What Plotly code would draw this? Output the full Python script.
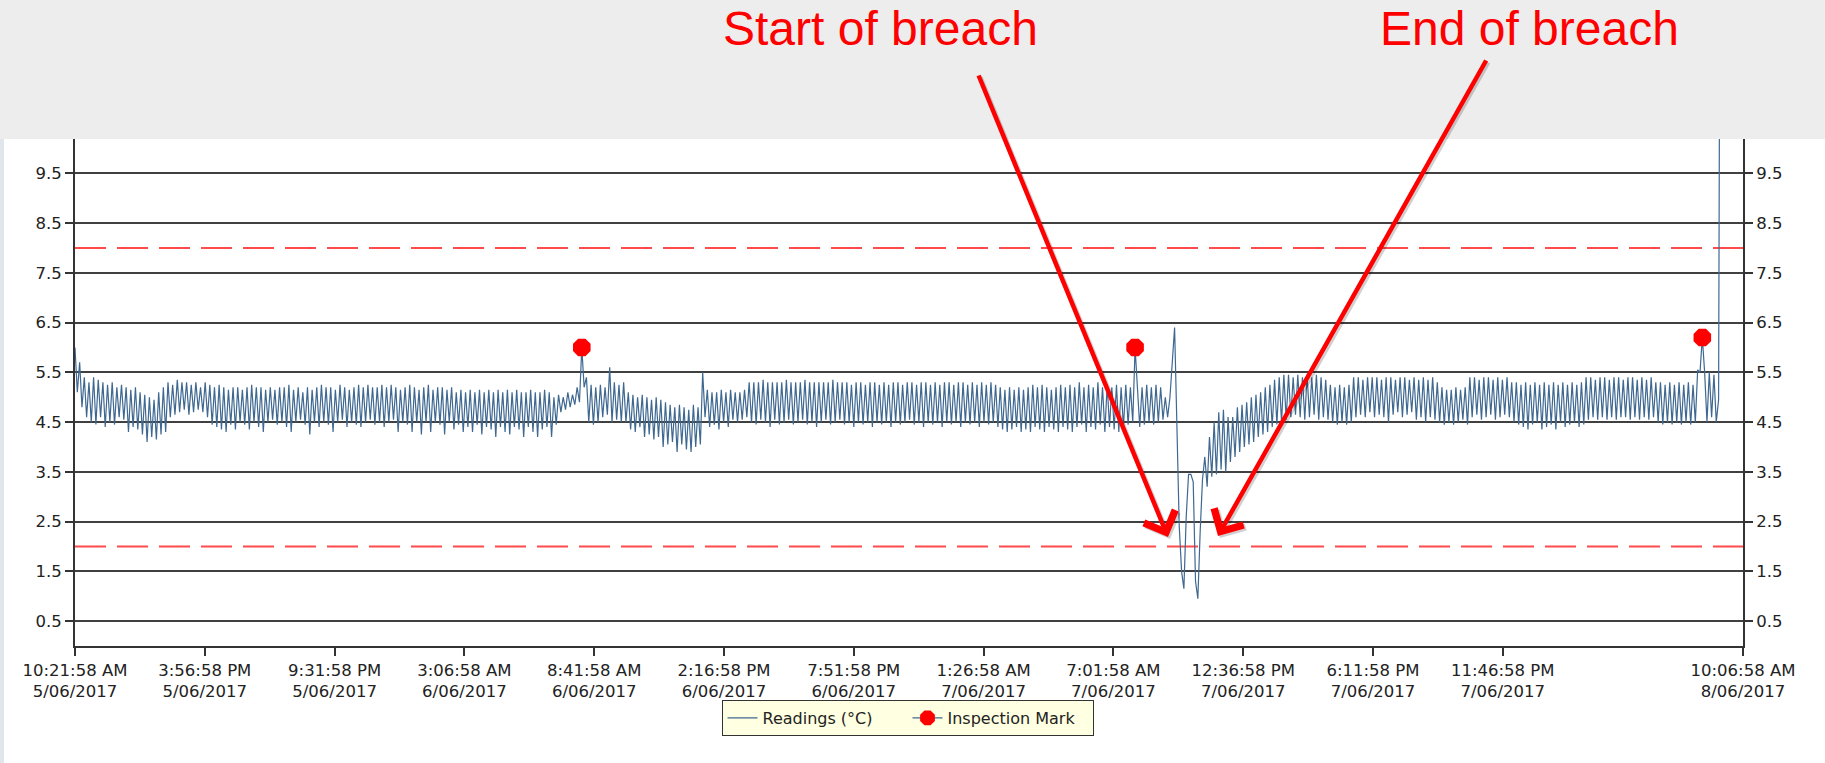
import pandas as pd
import plotly.graph_objects as go

# ---------------- data ----------------
START = "2017-06-05 10:21:58"
END = "2017-06-08 10:06:58"
SAMPLE_MINUTES = 6

readings = [
    6.0, 5.1, 5.7, 4.8, 5.4, 4.6, 5.3, 4.5, 5.4, 4.45,
    5.35, 4.6, 5.3, 4.4, 5.25, 4.5, 5.3, 4.45, 5.2, 4.6,
    5.25, 4.55, 5.2, 4.3, 5.15, 4.4, 5.2, 4.35, 5.1, 4.25,
    5.05, 4.1, 5.0, 4.2, 4.95, 4.15, 5.1, 4.25, 5.2, 4.3,
    5.3, 4.6, 5.25, 4.65, 5.35, 4.7, 5.3, 4.75, 5.3, 4.65,
    5.25, 4.7, 5.3, 4.75, 5.2, 4.7, 5.3, 4.6, 5.25, 4.45,
    5.2, 4.4, 5.25, 4.35, 5.2, 4.3, 5.15, 4.45, 5.2, 4.35,
    5.2, 4.5, 5.15, 4.45, 5.2, 4.35, 5.25, 4.5, 5.2, 4.4,
    5.2, 4.3, 5.15, 4.5, 5.2, 4.55, 5.15, 4.45, 5.2, 4.5,
    5.2, 4.4, 5.25, 4.3, 5.15, 4.5, 5.2, 4.55, 5.1, 4.45,
    5.2, 4.25, 5.15, 4.5, 5.2, 4.4, 5.25, 4.5, 5.2, 4.45,
    5.2, 4.3, 5.15, 4.5, 5.25, 4.55, 5.2, 4.4, 5.15, 4.5,
    5.2, 4.45, 5.25, 4.4, 5.2, 4.5, 5.25, 4.55, 5.2, 4.45,
    5.2, 4.5, 5.25, 4.4, 5.2, 4.5, 5.25, 4.55, 5.2, 4.3,
    5.15, 4.5, 5.2, 4.45, 5.25, 4.3, 5.2, 4.5, 5.15, 4.25,
    5.2, 4.5, 5.25, 4.3, 5.15, 4.5, 5.2, 4.45, 5.2, 4.25,
    5.15, 4.5, 5.2, 4.35, 5.1, 4.45, 5.15, 4.3, 5.1, 4.4,
    5.15, 4.3, 5.1, 4.45, 5.15, 4.25, 5.1, 4.4, 5.15, 4.35,
    5.1, 4.2, 5.15, 4.4, 5.1, 4.3, 5.15, 4.25, 5.1, 4.4,
    5.15, 4.35, 5.1, 4.2, 5.1, 4.4, 5.15, 4.3, 5.1, 4.2,
    5.1, 4.35, 5.15, 4.4, 5.1, 4.2, 5.0, 4.45, 5.05, 4.7,
    5.0, 4.75, 5.1, 4.8, 5.05, 4.85, 5.2, 4.9, 6.0, 5.2,
    5.4, 4.5, 5.25, 4.45, 5.2, 4.5, 5.25, 4.6, 5.2, 4.65,
    5.6, 4.5, 5.3, 4.55, 5.25, 4.5, 5.3, 4.5, 5.1, 4.35,
    5.05, 4.3, 5.0, 4.4, 5.05, 4.2, 5.0, 4.25, 4.95, 4.15,
    5.0, 4.2, 4.95, 4.0, 4.9, 4.05, 4.85, 4.1, 4.8, 3.9,
    4.85, 4.05, 4.8, 3.95, 4.75, 3.9, 4.85, 4.0, 4.8, 4.05,
    5.5, 4.6, 5.15, 4.4, 5.1, 4.45, 5.1, 4.35, 5.15, 4.5,
    5.1, 4.4, 5.15, 4.55, 5.1, 4.5, 5.1, 4.55, 5.15, 4.6,
    5.3, 4.5, 5.3, 4.45, 5.3, 4.55, 5.35, 4.5, 5.3, 4.4,
    5.3, 4.55, 5.3, 4.45, 5.3, 4.5, 5.35, 4.55, 5.3, 4.45,
    5.3, 4.5, 5.3, 4.55, 5.35, 4.45, 5.3, 4.5, 5.3, 4.4,
    5.3, 4.5, 5.3, 4.55, 5.3, 4.45, 5.35, 4.5, 5.3, 4.55,
    5.3, 4.45, 5.3, 4.5, 5.25, 4.4, 5.3, 4.5, 5.3, 4.45,
    5.25, 4.5, 5.3, 4.4, 5.3, 4.5, 5.25, 4.45, 5.3, 4.5,
    5.25, 4.4, 5.3, 4.5, 5.3, 4.45, 5.25, 4.5, 5.3, 4.55,
    5.3, 4.45, 5.25, 4.5, 5.3, 4.4, 5.3, 4.5, 5.25, 4.45,
    5.3, 4.5, 5.25, 4.4, 5.3, 4.5, 5.3, 4.45, 5.25, 4.5,
    5.3, 4.4, 5.3, 4.5, 5.25, 4.45, 5.3, 4.5, 5.25, 4.4,
    5.3, 4.5, 5.25, 4.45, 5.3, 4.5, 5.25, 4.4, 5.2, 4.35,
    5.15, 4.3, 5.2, 4.35, 5.15, 4.4, 5.2, 4.3, 5.15, 4.35,
    5.2, 4.3, 5.25, 4.4, 5.2, 4.35, 5.25, 4.3, 5.2, 4.4,
    5.15, 4.35, 5.2, 4.3, 5.25, 4.4, 5.2, 4.35, 5.25, 4.3,
    5.2, 4.4, 5.3, 4.45, 5.2, 4.3, 5.25, 4.4, 5.2, 4.35,
    5.3, 4.45, 5.2, 4.3, 5.25, 4.4, 5.2, 4.35, 5.25, 4.3,
    5.2, 4.4, 5.25, 4.45, 5.2, 4.5, 6.0, 5.3, 4.4, 5.2,
    4.45, 5.25, 4.5, 5.2, 4.45, 5.25, 4.5, 5.2, 4.55, 5.0,
    4.6, 5.0, 5.7, 6.4, 4.4, 2.4, 1.5, 1.15, 2.6, 3.45,
    3.45, 3.3, 1.3, 0.95, 2.3, 3.35, 3.8, 3.2, 4.2, 3.4,
    4.5, 3.45, 4.7, 3.55, 4.75, 3.5, 4.6, 3.7, 4.6, 3.8,
    4.8, 3.9, 4.85, 4.0, 4.9, 4.05, 5.0, 4.1, 5.05, 4.2,
    5.1, 4.25, 5.2, 4.3, 5.25, 4.4, 5.35, 4.45, 5.4, 4.5,
    5.45, 4.55, 5.45, 4.6, 5.4, 4.65, 5.45, 4.6, 5.4, 4.55,
    5.45, 4.6, 5.4, 4.65, 5.45, 4.55, 5.4, 4.6, 5.35, 4.55,
    5.25, 4.5, 5.2, 4.45, 5.25, 4.5, 5.2, 4.45, 5.25, 4.5,
    5.4, 4.6, 5.4, 4.65, 5.35, 4.6, 5.4, 4.7, 5.4, 4.6,
    5.4, 4.65, 5.35, 4.6, 5.4, 4.5, 5.4, 4.65, 5.35, 4.7,
    5.4, 4.6, 5.4, 4.65, 5.35, 4.7, 5.4, 4.55, 5.35, 4.6,
    5.4, 4.5, 5.35, 4.6, 5.4, 4.55, 5.3, 4.5, 5.2, 4.45,
    5.15, 4.5, 5.15, 4.45, 5.2, 4.5, 5.15, 4.55, 5.2, 4.45,
    5.4, 4.6, 5.4, 4.65, 5.35, 4.55, 5.4, 4.6, 5.4, 4.65,
    5.35, 4.55, 5.4, 4.6, 5.35, 4.65, 5.4, 4.6, 5.3, 4.5,
    5.3, 4.45, 5.25, 4.4, 5.3, 4.35, 5.25, 4.45, 5.3, 4.5,
    5.25, 4.35, 5.3, 4.4, 5.25, 4.45, 5.3, 4.35, 5.25, 4.5,
    5.3, 4.4, 5.25, 4.45, 5.3, 4.5, 5.25, 4.4, 5.3, 4.45,
    5.4, 4.55, 5.4, 4.6, 5.35, 4.55, 5.4, 4.6, 5.4, 4.55,
    5.35, 4.6, 5.4, 4.55, 5.4, 4.6, 5.35, 4.6, 5.4, 4.55,
    5.4, 4.6, 5.35, 4.55, 5.4, 4.6, 5.35, 4.55, 5.4, 4.6,
    5.3, 4.5, 5.3, 4.45, 5.25, 4.5, 5.3, 4.45, 5.25, 4.5,
    5.3, 4.45, 5.25, 4.5, 5.3, 4.45, 5.25, 4.5, 5.55, 5.5,
    6.2, 5.5, 4.5, 5.5, 4.6, 5.45, 4.5, 4.95, 21.0, 21.0,
    21.0, 21.0, 21.0, 21.0, 21.0, 21.0, 21.0, 21.0,
]

inspection_times = ["2017-06-06 08:09:58", "2017-06-07 07:57:58", "2017-06-08 08:21:58"]
inspection_values = [6.0, 6.0, 6.2]

lower_limit = 2.0
upper_limit = 8.0

y_tick_values = [0.5, 1.5, 2.5, 3.5, 4.5, 5.5, 6.5, 7.5, 8.5, 9.5]

tick_times = [
    "2017-06-05 10:21:58", "2017-06-05 15:56:58", "2017-06-05 21:31:58",
    "2017-06-06 03:06:58", "2017-06-06 08:41:58", "2017-06-06 14:16:58",
    "2017-06-06 19:51:58", "2017-06-07 01:26:58", "2017-06-07 07:01:58",
    "2017-06-07 12:36:58", "2017-06-07 18:11:58", "2017-06-07 23:46:58",
    "2017-06-08 10:06:58",
]
tick_labels = [
    "10:21:58 AM<br>5/06/2017", "3:56:58 PM<br>5/06/2017", "9:31:58 PM<br>5/06/2017",
    "3:06:58 AM<br>6/06/2017", "8:41:58 AM<br>6/06/2017", "2:16:58 PM<br>6/06/2017",
    "7:51:58 PM<br>6/06/2017", "1:26:58 AM<br>7/06/2017", "7:01:58 AM<br>7/06/2017",
    "12:36:58 PM<br>7/06/2017", "6:11:58 PM<br>7/06/2017", "11:46:58 PM<br>7/06/2017",
    "10:06:58 AM<br>8/06/2017",
]

callout_texts = ["Start of breach", "End of breach"]

# ---------------- figure ----------------
W, H = 1825, 763
ML, MR, MT, MB = 75, 82, 139, 117
PW, PH = W - ML - MR, H - MT - MB

def px_x(px):
    return (px - ML) / PW

def px_y(py):
    return (H - MB - py) / PH

line_color = "#3F6891"
axis_color = "#333333"
grid_color = "#404040"
font_family = "DejaVu Sans"
tick_font = dict(family=font_family, size=16.5, color="#222222")

times = pd.date_range(START, periods=len(readings), freq=f"{SAMPLE_MINUTES}min")

fig = go.Figure()
fig.add_trace(go.Scatter(
    x=times, y=readings, mode="lines", name="Readings (°C)",
    line=dict(color=line_color, width=1.2), hoverinfo="x+y",
))

mx, my = [], []
for t, v in zip(inspection_times, inspection_values):
    mx += [t, t]
    my += [v, None]
fig.add_trace(go.Scatter(
    x=mx, y=my, mode="lines+markers", name="Inspection Mark",
    line=dict(color=line_color, width=1.4),
    marker=dict(symbol="octagon", size=19, color="#FF0000", line=dict(width=0)),
    connectgaps=False,
))
# dummy trace so the right-hand axis is drawn
fig.add_trace(go.Scatter(x=[times[0]], y=[None], yaxis="y2", showlegend=False,
                         hoverinfo="skip", mode="lines"))

y_common = dict(
    range=[0, 10.19], tickmode="array", tickvals=y_tick_values,
    ticktext=[f"{v:.1f}" for v in y_tick_values],
    ticks="outside", ticklen=8, tickwidth=1.5, tickcolor=axis_color,
    showline=True, linecolor=axis_color, linewidth=2, zeroline=False,
    tickfont=tick_font, fixedrange=True,
)

shapes = [
    dict(type="rect", xref="paper", yref="paper", x0=px_x(0), x1=px_x(W),
         y0=px_y(MT), y1=px_y(0), fillcolor="#EDEDED", line=dict(width=0), layer="below"),
    dict(type="rect", xref="paper", yref="paper", x0=px_x(0), x1=px_x(4),
         y0=px_y(H), y1=px_y(MT), fillcolor="#E1E5EC", line=dict(width=0), layer="below"),
]
for lim in (lower_limit, upper_limit):
    shapes.append(dict(type="line", xref="paper", yref="y", x0=0, x1=1, y0=lim, y1=lim,
                       line=dict(color="#FF4B4B", width=2, dash="31px,11px"), layer="below"))

callout_font = dict(family="Liberation Sans", size=48, color="#FF0000")
arrow_style = dict(showarrow=True, arrowhead=4, arrowsize=1.45, arrowwidth=4.5,
                   standoff=0, axref="pixel", ayref="pixel",
                   xref="paper", yref="paper", text="")
shadow = "rgba(0,0,0,0.18)"
annotations = [
    dict(text=callout_texts[0], xref="paper", yref="paper", x=px_x(880), y=px_y(28),
         xanchor="center", yanchor="middle", showarrow=False, font=callout_font),
    dict(text=callout_texts[1], xref="paper", yref="paper", x=px_x(1529), y=px_y(28),
         xanchor="center", yanchor="middle", showarrow=False, font=callout_font),
    # soft drop shadows of the arrows
    dict(x=px_x(1170), y=px_y(539), ax=980 - 1170, ay=76 - 539, arrowcolor=shadow, **arrow_style),
    dict(x=px_x(1220), y=px_y(538), ax=1489 - 1220, ay=61 - 538, arrowcolor=shadow, **arrow_style),
    # arrows
    dict(x=px_x(1168), y=px_y(537), ax=978 - 1168, ay=74 - 537, arrowcolor="#FF0000", **arrow_style),
    dict(x=px_x(1218), y=px_y(536), ax=1487 - 1218, ay=59 - 536, arrowcolor="#FF0000", **arrow_style),
]

fig.update_layout(
    width=W, height=H,
    margin=dict(l=ML, r=MR, t=MT, b=MB, pad=0),
    paper_bgcolor="#FFFFFF", plot_bgcolor="#FFFFFF",
    font=dict(family=font_family, color="#222222"),
    showlegend=True,
    legend=dict(
        orientation="h", x=px_x(907.5), xanchor="center", y=px_y(700), yanchor="top",
        bgcolor="#FFFFE1", bordercolor="#333333", borderwidth=1,
        font=dict(family=font_family, size=16, color="#222222"),
        entrywidth=140, entrywidthmode="pixels",
        itemclick=False, itemdoubleclick=False,
    ),
    xaxis=dict(
        type="date", range=[START, END], tickmode="array",
        tickvals=tick_times, ticktext=tick_labels, tickangle=0,
        ticks="outside", ticklen=8, tickwidth=1.5, tickcolor=axis_color,
        showline=True, linecolor=axis_color, linewidth=2, showgrid=False, zeroline=False,
        tickfont=tick_font, fixedrange=True,
    ),
    yaxis=dict(**y_common, showgrid=True, gridcolor=grid_color, gridwidth=1.6, side="left"),
    yaxis2=dict(**y_common, showgrid=False, overlaying="y", side="right"),
    shapes=shapes,
    annotations=annotations,
)

fig.write_html("out.html", config={"displayModeBar": False},
               post_script="document.body.style.margin='0px';")
